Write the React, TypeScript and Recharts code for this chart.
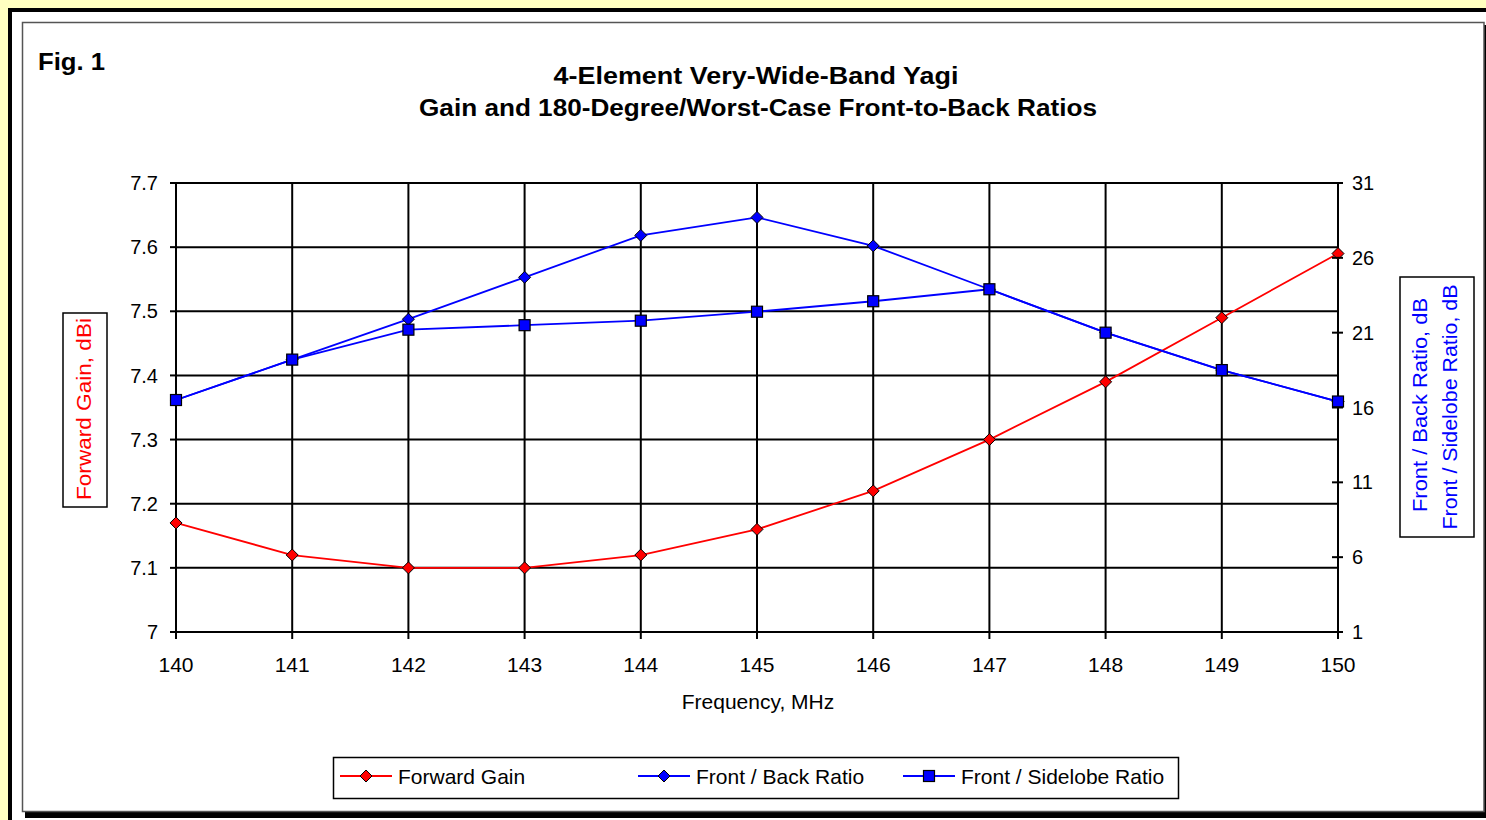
import React from 'react';
import { LineChart, Line, XAxis, YAxis, CartesianGrid } from 'recharts';

const frequencies = [140, 141, 142, 143, 144, 145, 146, 147, 148, 149, 150];
const forwardGain = [7.17, 7.12, 7.1, 7.1, 7.12, 7.16, 7.22, 7.3, 7.39, 7.49, 7.59];
const frontBack = [16.5, 19.2, 21.9, 24.7, 27.5, 28.7, 26.8, 23.9, 21.0, 18.5, 16.4];
const frontSidelobe = [16.5, 19.2, 21.2, 21.5, 21.8, 22.4, 23.1, 23.9, 21.0, 18.5, 16.4];
const gainTicks = [7, 7.1, 7.2, 7.3, 7.4, 7.5, 7.6, 7.7];
const ratioTicks = [1, 6, 11, 16, 21, 26, 31];

const titleLines = ['4-Element Very-Wide-Band Yagi', 'Gain and 180-Degree/Worst-Case Front-to-Back Ratios'];
const figLabel = 'Fig. 1';
const xLabel = 'Frequency, MHz';
const leftLabel = 'Forward Gain,  dBi';
const rightLabels = ['Front / Back Ratio,  dB', 'Front / Sidelobe Ratio,  dB'];

const series = [
  { key: 'gain', name: 'Forward Gain', color: '#FF0000', shape: 'diamond', axis: 'left' },
  { key: 'fb', name: 'Front / Back Ratio', color: '#0000FF', shape: 'diamond', axis: 'right' },
  { key: 'fs', name: 'Front / Sidelobe Ratio', color: '#0000FF', shape: 'square', axis: 'right' },
];

const data = frequencies.map((f, i) => ({
  freq: f,
  gain: forwardGain[i],
  fb: frontBack[i],
  fs: frontSidelobe[i],
}));

const FONT = '"Liberation Sans", Arial, Helvetica, sans-serif';

function Marker({ cx, cy, shape, color }: any) {
  if (shape === 'square') {
    return <rect x={cx - 5.5} y={cy - 5.5} width={11} height={11} fill={color} stroke="#000" strokeWidth={1.2} />;
  }
  return (
    <polygon
      points={`${cx},${cy - 6} ${cx + 6},${cy} ${cx},${cy + 6} ${cx - 6},${cy}`}
      fill={color}
      stroke="#000"
      strokeWidth={1}
    />
  );
}

const makeDot = (shape: string, color: string) => (props: any) => {
  const { cx, cy, index } = props;
  if (cx == null || cy == null) return <g key={`e-${index}`} />;
  return (
    <g key={`m-${shape}-${color}-${index}`}>
      <Marker cx={cx} cy={cy} shape={shape} color={color} />
    </g>
  );
};

const RightTick = (props: any) => {
  const { x, y, payload } = props;
  const ax = x - 14;
  return (
    <g>
      <line x1={ax - 6} x2={ax + 5} y1={y} y2={y} stroke="#000" strokeWidth={2} />
      <text x={x} y={y} dy="0.355em" textAnchor="start" fill="#000" fontSize={20} fontFamily={FONT}>
        {payload.value}
      </text>
    </g>
  );
};

export default function App() {
  return (
    <div style={{ position: 'absolute', left: 0, top: 0, width: 1486, height: 820, overflow: 'hidden', background: '#FFFFC0' }}>
      <svg width={1486} height={820} style={{ position: 'absolute', left: 0, top: 0 }}>
        <rect x={0} y={0} width={1486} height={820} fill="#FFFFC0" />
        <rect x={8} y={8} width={1478} height={812} fill="#000" />
        <rect x={12} y={12} width={1474} height={808} fill="#fff" />
        <rect x={25} y={25} width={1462} height={793} fill="#000" />
        <rect x={22.5} y={22.5} width={1461.5} height={789} fill="#fff" stroke="#555" strokeWidth={1.5} />
      </svg>

      <div style={{ position: 'absolute', left: 0, top: 0 }}>
        <LineChart width={1486} height={820} data={data} margin={{ top: 183, right: 88, bottom: 148, left: 116 }}>
          <CartesianGrid yAxisId="left" stroke="#000" strokeWidth={2} />
          <XAxis
            dataKey="freq"
            type="number"
            domain={[140, 150]}
            ticks={frequencies}
            height={40}
            stroke="#000"
            axisLine={{ stroke: '#000', strokeWidth: 2 }}
            tickLine={{ stroke: '#000', strokeWidth: 2 }}
            tickSize={7}
            tickMargin={18}
            tick={{ fill: '#000', fontSize: 21, fontFamily: FONT }}
            interval={0}
          />
          <YAxis
            yAxisId="left"
            orientation="left"
            domain={[7, 7.7]}
            ticks={gainTicks}
            width={60}
            axisLine={{ stroke: '#000', strokeWidth: 2 }}
            tickLine={{ stroke: '#000', strokeWidth: 2 }}
            tickSize={6}
            tickMargin={12}
            tick={{ fill: '#000', fontSize: 20, fontFamily: FONT }}
            tickFormatter={(v: number) => (v === 7 ? '7' : v.toFixed(1))}
            interval={0}
          />
          <YAxis
            yAxisId="right"
            orientation="right"
            domain={[1, 31]}
            ticks={ratioTicks}
            width={60}
            axisLine={{ stroke: '#000', strokeWidth: 2 }}
            tickLine={false}
            tickSize={6}
            tickMargin={8}
            tick={<RightTick />}
            interval={0}
          />
          {series.map((s) => (
            <Line
              key={s.key}
              yAxisId={s.axis}
              dataKey={s.key}
              name={s.name}
              type="linear"
              stroke={s.color}
              strokeWidth={1.8}
              dot={makeDot(s.shape, s.color)}
              activeDot={false}
              isAnimationActive={false}
            />
          ))}
        </LineChart>
      </div>

      <svg width={1486} height={820} style={{ position: 'absolute', left: 0, top: 0, pointerEvents: 'none' }}>
        <text x={38} y={70} fontFamily={FONT} fontWeight="bold" fontSize={24} fill="#000" textLength={67} lengthAdjust="spacingAndGlyphs">
          {figLabel}
        </text>
        <text x={756} y={84} textAnchor="middle" fontFamily={FONT} fontWeight="bold" fontSize={23} fill="#000" textLength={405} lengthAdjust="spacingAndGlyphs">
          {titleLines[0]}
        </text>
        <text x={758} y={116} textAnchor="middle" fontFamily={FONT} fontWeight="bold" fontSize={23} fill="#000" textLength={678} lengthAdjust="spacingAndGlyphs">
          {titleLines[1]}
        </text>

        <text x={758} y={709} textAnchor="middle" fontFamily={FONT} fontSize={21} fill="#000">
          {xLabel}
        </text>

        <rect x={63} y={313} width={44} height={194} fill="none" stroke="#000" strokeWidth={1.5} />
        <text
          x={0}
          y={0}
          transform="translate(91,409) rotate(-90)"
          textAnchor="middle"
          fontFamily={FONT}
          fontSize={20}
          fill="#FF0000"
          textLength={182}
          lengthAdjust="spacingAndGlyphs"
        >
          {leftLabel}
        </text>

        <rect x={1400} y={277} width={74} height={260} fill="none" stroke="#000" strokeWidth={1.5} />
        <text
          x={0}
          y={0}
          transform="translate(1427,405) rotate(-90)"
          textAnchor="middle"
          fontFamily={FONT}
          fontSize={20}
          fill="#0000FF"
          textLength={214}
          lengthAdjust="spacingAndGlyphs"
        >
          {rightLabels[0]}
        </text>
        <text
          x={0}
          y={0}
          transform="translate(1457,407) rotate(-90)"
          textAnchor="middle"
          fontFamily={FONT}
          fontSize={20}
          fill="#0000FF"
          textLength={245}
          lengthAdjust="spacingAndGlyphs"
        >
          {rightLabels[1]}
        </text>

        <rect x={333.5} y={757.5} width={845} height={41} fill="#fff" stroke="#000" strokeWidth={1.5} />
        {series.map((s, i) => {
          const lineX = [340, 638, 903][i];
          return (
            <g key={`lg-${s.key}`}>
              <line x1={lineX} x2={lineX + 52} y1={776} y2={776} stroke={s.color} strokeWidth={1.8} />
              <Marker cx={lineX + 26} cy={776} shape={s.shape} color={s.color} />
              <text x={lineX + 58} y={784} fontFamily={FONT} fontSize={21} fill="#000">
                {s.name}
              </text>
            </g>
          );
        })}
      </svg>
    </div>
  );
}
